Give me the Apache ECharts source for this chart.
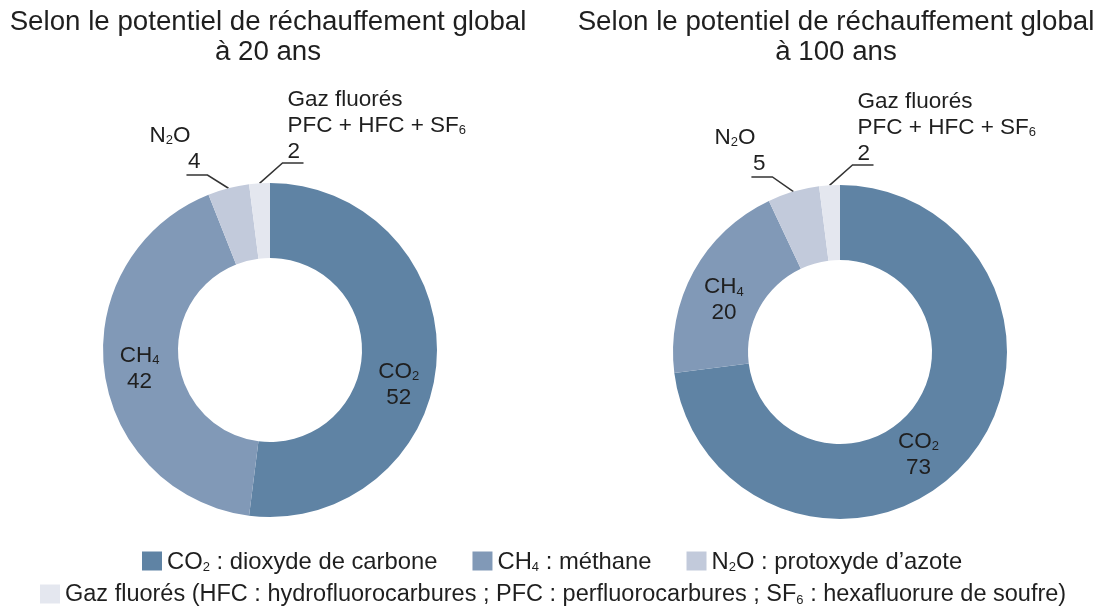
<!DOCTYPE html>
<html><head><meta charset="utf-8">
<script src="https://cdn.jsdelivr.net/npm/echarts@6/dist/echarts.min.js"></script>
<style>html,body{margin:0;padding:0;background:#fff}#c{width:1099px;height:610px}</style>
</head><body><div id="c"></div>
<script>
// ---- data ----
const gasNames = ['CO2', 'CH4', 'N2O', 'Gaz fluorés'];
const values20 = [52, 42, 4, 2];
const values100 = [73, 20, 5, 2];
const chartTitles = [
  'Selon le potentiel de réchauffement global\nà 20 ans',
  'Selon le potentiel de réchauffement global\nà 100 ans'
];
const sliceLabels = ['{m|CO}{s|2}', '{m|CH}{s|4}', '{m|N}{s|2}{mp|O}', '{m|Gaz fluorés}\n{m|PFC + HFC + SF}{s|6}'];
const legendLabels = [
  '{t|CO}{s|2}{t| : dioxyde de carbone}',
  '{t|CH}{s|4}{t| : méthane}',
  '{t|N}{s|2}{t|O : protoxyde d’azote}',
  '{t|Gaz fluorés (HFC : hydrofluorocarbures ; PFC : perfluorocarbures ; SF}{s|6}{t| : hexafluorure de soufre)}'
];

// ---- style ----
const FONT = 'Liberation Sans, Arial, sans-serif';
const TEXT = '#1f1f1f';
const colors = ['#5f83a4', '#8199b7', '#c2cadb', '#e4e7ef'];
const insideShift = [[[-3.5, 23], [1, -1]], [[-21, 12], [0, 9]]];
const centers = [[270, 350], [840, 352]];
const RADII = [92, 167];

const labelRich = {
  m: {fontSize: 22.5, lineHeight: 26, color: TEXT, fontFamily: FONT, verticalAlign: 'bottom'},
  mp: {fontSize: 22.5, lineHeight: 26, color: TEXT, fontFamily: FONT, verticalAlign: 'bottom', padding: [0, 10, 0, 0]},
  s: {fontSize: 13, lineHeight: 16, color: TEXT, fontFamily: FONT, verticalAlign: 'bottom'}
};

function buildData(values) {
  return gasNames.map((name, i) => ({
    name: name,
    value: values[i],
    itemStyle: {color: colors[i]},
    label: {position: i < 2 ? 'inside' : 'outside'},
    labelLine: {show: i >= 2}
  }));
}

function makeLayout(seriesIdx) {
  const cy = centers[seriesIdx][1];
  return function (p) {
    const i = p.dataIndex;
    if (i < 2) {
      const r = p.labelRect;
      const d = insideShift[seriesIdx][i];
      return {x: r.x + r.width / 2 + d[0], y: r.y + r.height / 2 + d[1], align: 'center', verticalAlign: 'middle'};
    }
    const pts = p.labelLinePoints;
    if (!pts) return {};
    const s = pts[0];
    if (i === 2) {
      const mid = [s[0] - 21, cy - RADII[1] - 8];
      const end = [mid[0] - 21, mid[1]];
      return {x: end[0] + 14, y: end[1] - 2, align: 'right', verticalAlign: 'bottom',
        labelLinePoints: [s, mid, end]};
    }
    const mid = [s[0] + 23, cy - RADII[1] - 20];
    const end = [mid[0] + 21, mid[1]];
    return {x: mid[0] + 5, y: mid[1], align: 'left', verticalAlign: 'bottom',
      labelLinePoints: [s, mid, end]};
  };
}

function makeSeries(values, idx) {
  return {
    type: 'pie',
    center: centers[idx],
    radius: RADII,
    startAngle: 90,
    clockwise: true,
    avoidLabelOverlap: false,
    animation: false,
    silent: true,
    emphasis: {disabled: true, scale: false},
    itemStyle: {borderWidth: 0, borderRadius: 0},
    label: {
      show: true,
      color: TEXT,
      fontFamily: FONT,
      formatter: p => sliceLabels[p.dataIndex] + '\n{m|' + p.value + '}',
      rich: labelRich
    },
    labelLine: {show: true, lineStyle: {color: '#333', width: 1.5}, length: 15, length2: 20, smooth: false},
    labelLayout: makeLayout(idx),
    data: buildData(values)
  };
}

function legendCfg(fs) {
  return {
    orient: 'horizontal',
    icon: 'rect',
    itemWidth: 20,
    itemHeight: 19,
    itemGap: 35,
    selectedMode: false,
    padding: 0,
    formatter: name => legendLabels[gasNames.indexOf(name)],
    textStyle: {
      color: TEXT, fontFamily: FONT, fontSize: fs,
      rich: {
        t: {fontSize: fs, lineHeight: 26, color: TEXT, fontFamily: FONT, verticalAlign: 'bottom'},
        s: {fontSize: 13, lineHeight: 16, color: TEXT, fontFamily: FONT, verticalAlign: 'bottom'}
      }
    }
  };
}

const titleStyle = {fontSize: 27.7, fontWeight: 'normal', lineHeight: 30, color: TEXT, fontFamily: FONT};

const chart = echarts.init(document.getElementById('c'), null, {renderer: 'canvas'});
chart.setOption({
  backgroundColor: '#ffffff',
  animation: false,
  title: [
    {text: chartTitles[0], left: 268, top: 7, textAlign: 'center', padding: 0, textStyle: titleStyle},
    {text: chartTitles[1], left: 836, top: 7, textAlign: 'center', padding: 0, textStyle: titleStyle}
  ],
  legend: [
    Object.assign(legendCfg(23.8), {data: gasNames.slice(0, 3), left: 142, top: 550}),
    Object.assign(legendCfg(23.5), {data: gasNames.slice(3), left: 40, top: 583})
  ],
  series: [
    makeSeries(values20, 0),
    makeSeries(values100, 1)
  ]
});
</script>
</body></html>
